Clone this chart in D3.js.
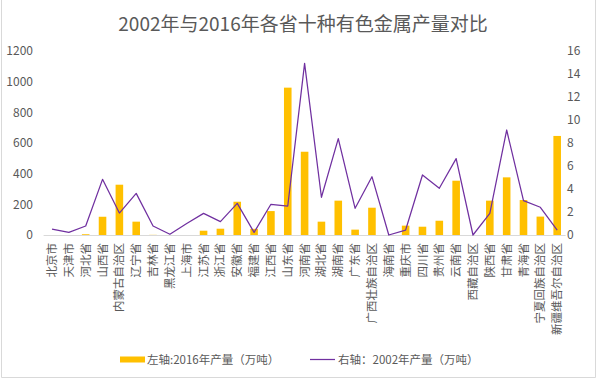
<!DOCTYPE html>
<html>
<head>
<meta charset="utf-8">
<script src="https://cdn.jsdelivr.net/npm/d3@7"></script>
<style>
  html, body { margin: 0; padding: 0; background: #fff; }
  svg { display: block; }
  text { font-family: "Noto Sans CJK SC", "Noto Sans", sans-serif; fill: #595959; }
</style>
</head>
<body>
<svg id="chart" width="598" height="379"></svg>
<script>
const provinces = ["北京市","天津市","河北省","山西省","内蒙古自治区","辽宁省","吉林省","黑龙江省","上海市","江苏省","浙江省","安徽省","福建省","江西省","山东省","河南省","湖北省","湖南省","广东省","广西壮族自治区","海南省","重庆市","四川省","贵州省","云南省","西藏自治区","陕西省","甘肃省","青海省","宁夏回族自治区","新疆维吾尔自治区"];
const output2016 = [0,0,5,119,328,87,1,0,0,28,41,217,40,156,961,543,87,224,35,178,0,61,54,93,354,0,224,376,228,120,646];
const output2002 = [0.52,0.23,0.78,4.84,1.91,3.62,0.78,0.06,1.0,1.88,1.16,2.75,0.23,2.67,2.52,14.93,3.28,8.38,2.32,5.07,0,0.43,5.22,4.06,6.64,0,1.88,9.13,2.99,2.41,0.43];
const leftTicks = [0,200,400,600,800,1000,1200];
const rightTicks = [0,2,4,6,8,10,12,14,16];
const title = "2002年与2016年各省十种有色金属产量对比";
const legendBar = "左轴:2016年产量（万吨）";
const legendLine = "右轴：2002年产量（万吨）";

const svg = d3.select("#chart");
const plotL = 43.6, plotR = 565.6, plotT = 51, plotB = 235;

// chart border (left, right, bottom)
svg.append("path")
  .attr("d", `M1.5,0 V377.5 H595.5 V0`)
  .attr("fill", "none").attr("stroke", "#d9d9d9").attr("stroke-width", 1);

const x = d3.scaleBand().domain(provinces).range([plotL, plotR]).paddingInner(0.55).paddingOuter(0.275);
const yL = d3.scaleLinear().domain([0, 1200]).range([plotB, plotT]);
const yR = d3.scaleLinear().domain([0, 16]).range([plotB, plotT]);

// title
svg.append("text").attr("x", 303).attr("y", 31)
  .attr("text-anchor", "middle").attr("font-size", 19).text(title);

// left axis labels
const axL = d3.axisLeft(yL).tickValues(leftTicks).tickFormat(d3.format("d")).tickSize(0).tickPadding(0);
const gL = svg.append("g").attr("transform", "translate(33,0)").call(axL);
gL.select(".domain").remove();
gL.selectAll("text").attr("font-size", 12).attr("fill", "#595959")
  .style("font-family", "'Noto Sans CJK SC', sans-serif");

// right axis labels
const axR = d3.axisRight(yR).tickValues(rightTicks).tickFormat(d3.format("d")).tickSize(0).tickPadding(0);
const gR = svg.append("g").attr("transform", "translate(567,0)").call(axR);
gR.select(".domain").remove();
gR.selectAll("text").attr("font-size", 12).attr("fill", "#595959")
  .style("font-family", "'Noto Sans CJK SC', sans-serif");

// baseline
svg.append("line").attr("x1", plotL).attr("x2", plotR).attr("y1", plotB + 0.5).attr("y2", plotB + 0.5)
  .attr("stroke", "#d9d9d9").attr("stroke-width", 1);

// bars
svg.append("g").selectAll("rect").data(provinces).join("rect")
  .attr("x", d => x(d))
  .attr("width", x.bandwidth())
  .attr("y", (d, i) => yL(output2016[i]))
  .attr("height", (d, i) => plotB - yL(output2016[i]))
  .attr("fill", "#FFC000");

// line
const line = d3.line()
  .x((d, i) => x(provinces[i]) + x.bandwidth() / 2)
  .y(d => yR(d));
svg.append("path").datum(output2002)
  .attr("d", line).attr("fill", "none")
  .attr("stroke", "#7030A0").attr("stroke-width", 1.25).attr("stroke-linejoin", "round");

// category labels
const xa = d3.axisBottom(x).tickSize(0).tickPadding(0);
const gX = svg.append("g").attr("transform", `translate(0,${plotB})`).call(xa);
gX.select(".domain").remove();
gX.selectAll("text")
  .attr("font-size", 11.5).attr("fill", "#595959")
  .style("font-family", "'Noto Sans CJK SC', sans-serif")
  .attr("text-anchor", "end")
  .attr("transform", "translate(0,8) rotate(-90)")
  .attr("x", 0).attr("y", 0).attr("dy", "0.35em");

// legend
svg.append("rect").attr("x", 120).attr("y", 356.5).attr("width", 25).attr("height", 6).attr("fill", "#FFC000");
svg.append("text").attr("x", 147).attr("y", 359.5).attr("dy", "0.35em").attr("font-size", 11.5).text(legendBar);
svg.append("line").attr("x1", 310).attr("x2", 335).attr("y1", 359.5).attr("y2", 359.5)
  .attr("stroke", "#7030A0").attr("stroke-width", 1.25);
svg.append("text").attr("x", 338).attr("y", 359.5).attr("dy", "0.35em").attr("font-size", 11.5).text(legendLine);
</script>
</body>
</html>
